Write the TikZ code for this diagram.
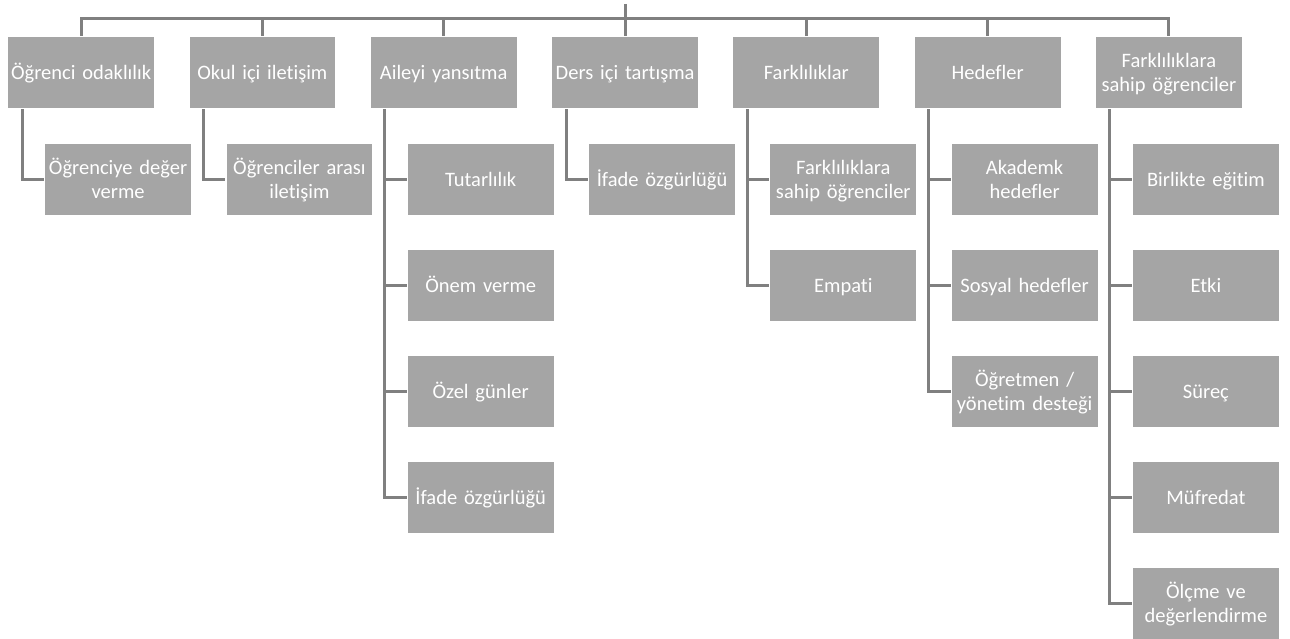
\documentclass[tikz,border=0pt]{standalone}
\usepackage{fontspec}
\setmainfont{Carlito}[Ligatures={NoCommon}]
% invisible rule that fixes line height and depth inside the boxes
\newcommand\lblstrut{\rule[-4.75pt]{0pt}{23.5pt}}
\begin{document}
\begin{tikzpicture}[x=1pt,y=-1pt,
  box/.style={rectangle,fill=boxgray,draw=white,line width=1.2pt,
    minimum width=147pt,minimum height=72pt,text width=146pt,inner sep=0.5pt,
    align=center,anchor=north west,text=white,font=\fontsize{20.5}{23.5}\selectfont,
    execute at begin node=\lblstrut,execute at end node=\lblstrut},
  link/.style={draw=linegray,line width=3pt}]
\definecolor{boxgray}{HTML}{A5A5A5}
\definecolor{linegray}{HTML}{808080}
\useasboundingbox (0,0) rectangle (1290,639);

% top level
\node[box] (p1) at (7,36) {Öğrenci odaklılık};
\node[box] (p2) at (188.3,36) {Okul içi iletişim};
\node[box] (p3) at (369.6,36) {Aileyi yansıtma};
\node[box] (p4) at (551,36) {Ders içi tartışma};
\node[box] (p5) at (732.2,36) {Farklılıklar};
\node[box] (p6) at (913.5,36) {Hedefler};
\node[box] (p7) at (1094.8,36) {Farklılıklara\\sahip öğrenciler};

% second level
\node[box] (c11) at (44,143) {Öğrenciye değer\\verme};
\node[box] (c21) at (225.3,143) {Öğrenciler arası\\iletişim};
\node[box] (c31) at (406.6,143) {Tutarlılık};
\node[box] (c32) at (406.6,249) {Önem verme};
\node[box] (c33) at (406.6,355) {Özel günler};
\node[box] (c34) at (406.6,461) {İfade özgürlüğü};
\node[box] (c41) at (588,143) {İfade özgürlüğü};
\node[box] (c51) at (769.2,143) {Farklılıklara\\sahip öğrenciler};
\node[box] (c52) at (769.2,249) {Empati};
\node[box] (c61) at (950.5,143) {Akademk\\hedefler};
\node[box] (c62) at (950.5,249) {Sosyal hedefler};
\node[box] (c63) at (950.5,355) {Öğretmen /\\yönetim desteği};
\node[box] (c71) at (1131.8,143) {Birlikte eğitim};
\node[box] (c72) at (1131.8,249) {Etki};
\node[box] (c73) at (1131.8,355) {Süreç};
\node[box] (c74) at (1131.8,461) {Müfredat};
\node[box] (c75) at (1131.8,567) {Ölçme ve\\değerlendirme};

% bus from the hidden root
\coordinate (root) at (625,4);
\coordinate (bus) at (625,19);
\draw[link] (root) -- (bus);
\foreach \p in {p1,p2,p3,p4,p5,p6,p7}
  \draw[link] (\p.north) |- (bus);

% elbow connectors to the children
\foreach \p/\c in {p1/c11,p2/c21,p3/c31,p3/c32,p3/c33,p3/c34,p4/c41,
                   p5/c51,p5/c52,p6/c61,p6/c62,p6/c63,
                   p7/c71,p7/c72,p7/c73,p7/c74,p7/c75}
  \draw[link] ([xshift=15pt]\p.south west) |- (\c.west);
\end{tikzpicture}
\end{document}
